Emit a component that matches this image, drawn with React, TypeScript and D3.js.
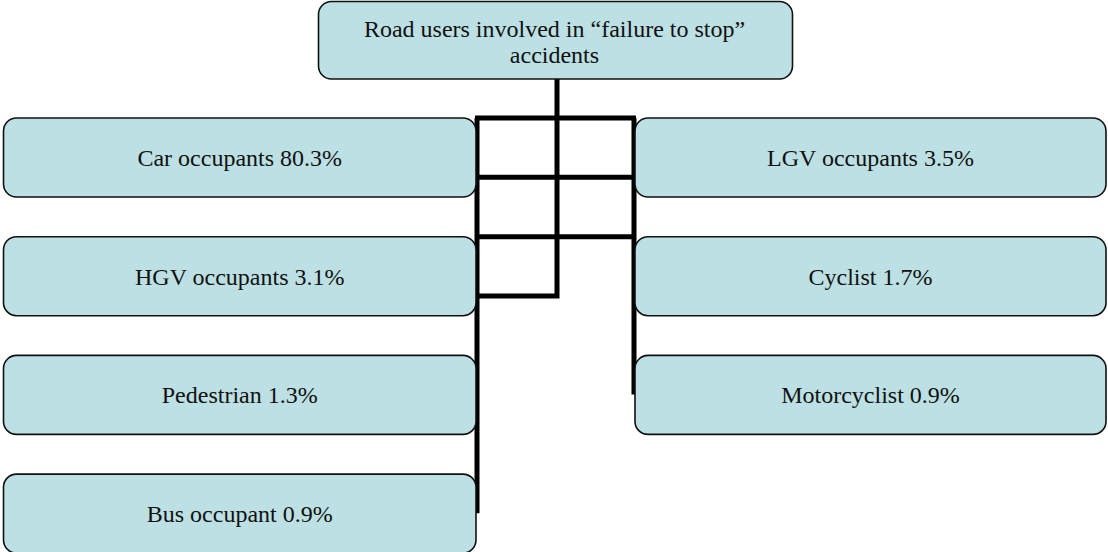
import { useEffect, useRef } from "react";
import * as d3 from "d3";

const titleLines = ["Road users involved in \u201cfailure to stop\u201d", "accidents"];
const leftUsers = ["Car occupants", "HGV occupants", "Pedestrian", "Bus occupant"];
const leftShares = [80.3, 3.1, 1.3, 0.9];
const rightUsers = ["LGV occupants", "Cyclist", "Motorcyclist"];
const rightShares = [3.5, 1.7, 0.9];

// connector levels, in row units (0 = top of first row)
const crossLevels = [0, 0.5, 1];
const stemEnd = 1.5;
const leftDrop = 3.33;
const rightDrop = 2.33;

const W = 1108;
const H = 552;

const App = () => {
  const svgRef = useRef<SVGSVGElement | null>(null);

  useEffect(() => {
    const svg = d3.select(svgRef.current);
    svg.selectAll("*").remove();

    const rowTop = d3.scaleLinear().domain([0, 1]).range([118, 236.7]);
    const boxH = 79;
    const col = { left: [3.5, 476], right: [635, 1106] };
    const title = { x0: 318.5, x1: 792.5, y0: 1.5, y1: 79 };
    const stemX = (title.x0 + title.x1) / 2 + 1.5;
    const leftX = col.left[1] + 1;
    const rightX = col.right[0] - 1;

    const fill = "#bce0e3";
    const font = "'Liberation Serif', 'Times New Roman', serif";

    // connectors
    const lines = svg.append("g").attr("stroke", "#000").attr("stroke-width", 5).attr("fill", "none");
    const path = (pts: [number, number][]) =>
      lines.append("path").attr("d", d3.line()(pts)).attr("stroke-linejoin", "miter");

    path([[stemX, title.y1], [stemX, rowTop(stemEnd)], [leftX - 2, rowTop(stemEnd)]]);
    crossLevels.forEach((t) => path([[leftX - 2, rowTop(t)], [rightX + 2, rowTop(t)]]));
    path([[leftX, rowTop(0)], [leftX, rowTop(leftDrop)]]);
    path([[rightX, rowTop(0)], [rightX, rowTop(rightDrop)]]);

    const box = (x0: number, y0: number, x1: number, y1: number) =>
      svg
        .append("rect")
        .attr("x", x0)
        .attr("y", y0)
        .attr("width", x1 - x0)
        .attr("height", y1 - y0)
        .attr("rx", 13)
        .attr("fill", fill)
        .attr("stroke", "#111")
        .attr("stroke-width", 1.6);

    // title box
    box(title.x0, title.y0, title.x1, title.y1);
    svg
      .append("text")
      .attr("text-anchor", "middle")
      .attr("font-family", font)
      .attr("font-size", 24)
      .attr("fill", "#111")
      .selectAll("tspan")
      .data(titleLines)
      .enter()
      .append("tspan")
      .attr("x", (title.x0 + title.x1) / 2 - 1)
      .attr("y", (d, i) => 37 + i * 26)
      .text((d) => d);

    const nodes = [
      ...leftUsers.map((u, i) => ({ label: `${u} ${leftShares[i]}%`, row: i, c: col.left })),
      ...rightUsers.map((u, i) => ({ label: `${u} ${rightShares[i]}%`, row: i, c: col.right })),
    ];

    nodes.forEach((n) => {
      const y0 = rowTop(n.row);
      box(n.c[0], y0, n.c[1], y0 + boxH);
      svg
        .append("text")
        .attr("x", (n.c[0] + n.c[1]) / 2)
        .attr("y", y0 + boxH / 2)
        .attr("dy", "0.35em")
        .attr("text-anchor", "middle")
        .attr("font-family", font)
        .attr("font-size", 24)
        .attr("fill", "#111")
        .text(n.label);
    });
  }, []);

  return (
    <svg
      ref={svgRef}
      width={W}
      height={H}
      style={{ position: "absolute", left: 0, top: 0, background: "#fff" }}
    ></svg>
  );
};

export default App;
